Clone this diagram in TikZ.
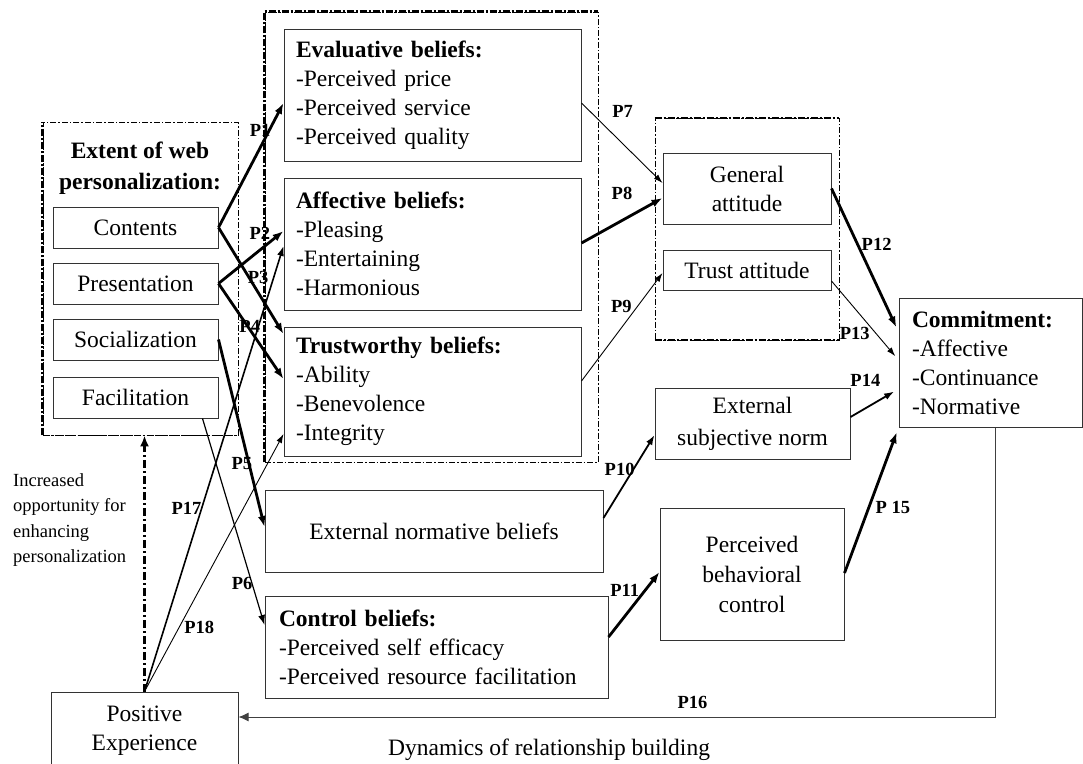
\documentclass[tikz,border=0pt]{standalone}
\usepackage{fontspec}
\setmainfont{Liberation Serif}
\usetikzlibrary{arrows.meta,positioning}
\begin{document}
\begin{tikzpicture}[x=1pt, y=-1pt,
  txt/.style = {font=\fontsize{23.5}{29}\selectfont},
  box/.style = {draw=black!80, line width=1pt, txt, inner sep=0pt},
  item/.style = {box, minimum width=165pt, minimum height=41pt},
  list/.style = {box, align=left, inner xsep=12pt},
  grp/.style = {draw, line width=0.9pt, dash pattern=on 6pt off 2pt on 1.5pt off 2pt, inner sep=0pt},
  grpthick/.style = {line width=2.4pt, dash pattern=on 7pt off 2pt on 2pt off 2pt},
  lbl/.style = {font=\fontsize{18.5}{18.5}\selectfont\bfseries, inner sep=0pt},
  thin/.style = {line width=0.9pt, -{Latex[length=9pt,width=6pt]}},
  mid/.style = {line width=1.8pt, -{Latex[length=10pt,width=7pt]}},
  thk/.style = {line width=2.8pt, -{Latex[length=11pt,width=8pt]}}]
\useasboundingbox (0,0) rectangle (1083,763);
\node[grp, minimum width=195pt, minimum height=313pt] (extentgrp) at (140.5,278.5) {};
\node[grp, minimum width=333pt, minimum height=450pt] (beliefgrp) at (431.5,237) {};
\node[grp, minimum width=184pt, minimum height=222pt] (attgrp) at (747,229) {};
\draw[grpthick] (extentgrp.south west) -- (extentgrp.north west);
\draw[grpthick, line width=1.5pt] (extentgrp.south west) -- (extentgrp.south east);
\draw[grpthick] (beliefgrp.south west) -- (beliefgrp.north west) -- (beliefgrp.north east);
\draw[grpthick, line width=2pt] (attgrp.north west) -- (attgrp.north east);
\draw[grpthick, line width=2pt] (attgrp.south west) -- (attgrp.south east);
\node[txt, font=\fontsize{23.5}{31}\selectfont\bfseries, align=center] (extent) at (140,168) {Extent of web\\personalization:};
\node[item] (contents) at (135.5,227.5) {Contents};
\node[item, below=14pt of contents] (presentation) {Presentation};
\node[item, below=14pt of presentation] (socialization) {Socialization};
\node[item, below=16pt of socialization] (facilitation) {Facilitation};
\node[list, text width=273pt, minimum height=132pt] (evaluative) at (432.5,95) {\textbf{Evaluative beliefs:}\\-Perceived price\\-Perceived service\\-Perceived quality};
\node[list, text width=273pt, minimum height=132pt, below=16pt of evaluative] (affective) {\textbf{Affective beliefs:}\\-Pleasing\\-Entertaining\\-Harmonious};
\node[list, text width=273pt, minimum height=129pt, below=16pt of affective] (trustbel) {\textbf{Trustworthy beliefs:}\\-Ability\\-Benevolence\\-Integrity};
\node[box, minimum width=338pt, minimum height=82pt] (extnorm) at (434,531) {External normative beliefs};
\node[list, inner xsep=14pt, text width=315pt, minimum height=102pt] (control) at (436.5,647) {\textbf{Control beliefs:}\\-Perceived self efficacy\\-Perceived resource facilitation};
\node[box, align=center, minimum width=168pt, minimum height=71pt] (general) at (747,188.5) {General\\attitude};
\node[box, minimum width=168pt, minimum height=40pt, below=25pt of general] (trustatt) {Trust attitude};
\node[box, align=center, font=\fontsize{23.5}{32}\selectfont, minimum width=195pt, minimum height=71pt] (extsubj) at (752.5,423.5) {External\\subjective norm};
\node[box, align=center, font=\fontsize{23.5}{30}\selectfont, minimum width=184pt, minimum height=132pt] (pbc) at (752,574) {Perceived\\behavioral\\control};
\node[list, inner xsep=13pt, text width=157pt, minimum height=129pt] (commitment) at (990.5,362.5) {\textbf{Commitment:}\\-Affective\\-Continuance\\-Normative};
\node[box, align=center, minimum width=187pt, minimum height=77pt] (positive) at (144.5,730.5) {Positive\\Experience};
\node[txt, font=\fontsize{18.5}{25.3}\selectfont, align=left, anchor=west, inner sep=0pt] (increased) at (13,520) {Increased\\opportunity for\\enhancing\\personalization};
\node[txt, anchor=west, inner sep=0pt] (dynamics) at (388,750) {Dynamics of relationship building};
\draw[thk] (contents.east) -- node[lbl, pos=0.78, xshift=-9pt] {P1} ([yshift=-8pt]evaluative.west);
\draw[thk] (presentation.east) -- node[lbl, pos=0.96, xshift=-21pt] {P2} ([yshift=13pt]affective.west);
\draw[thk] (contents.east) -- node[lbl, pos=0.47, xshift=9pt] {P3} ([yshift=57.5pt]trustbel.west);
\draw[thk] (presentation.east) -- node[lbl, pos=0.45, xshift=2pt] {P4} ([yshift=12.5pt]trustbel.west);
\draw[thk] (socialization.east) -- node[lbl, pos=0.66, xshift=-7pt] {P5} ([yshift=4pt]extnorm.west);
\draw[mid, line width=1.2pt] ([xshift=-16pt]facilitation.south east) -- node[lbl, pos=0.8, xshift=-10pt] {P6} ([yshift=22pt]control.west);
\draw[thin] ([yshift=-8pt]evaluative.east) -- node[lbl, pos=0.1, xshift=33pt] {P7} ([yshift=5.5pt]general.west);
\draw[thk] ([yshift=1pt]affective.east) -- node[lbl, pos=0.5, yshift=27pt] {P8} ([yshift=-9.5pt]general.west);
\draw[thin] ([yshift=10.5pt]trustbel.east) -- node[lbl, pos=0.69, xshift=-16pt] {P9} ([yshift=-3pt]trustatt.west);
\draw[mid] ([yshift=13pt]extnorm.east) -- node[lbl, pos=0.59, xshift=-14pt] {P10} ([yshift=-11.5pt]extsubj.west);
\draw[thk] ([yshift=10pt]control.east) -- node[lbl, pos=0.71, xshift=-20pt] {P11} ([yshift=2pt]pbc.west);
\draw[thk, shorten >=5pt] (general.east) -- node[lbl, pos=0.39, xshift=19pt] {P12} ([yshift=30.5pt]commitment.west);
\draw[thin, shorten >=5pt] ([yshift=-11pt]trustatt.east) -- node[lbl, pos=0.66, xshift=-21pt] {P13} ([yshift=2.5pt]commitment.west);
\draw[mid, shorten >=5pt] ([yshift=6.5pt]extsubj.east) -- node[lbl, pos=0.31, yshift=28pt] {P14} ([yshift=-26.5pt]commitment.west);
\draw[thk, shorten >=5pt] ([yshift=1pt]pbc.east) -- node[lbl, pos=0.45, xshift=24pt] {P 15} (commitment.south west);
\draw[draw=black!75, line width=1pt, -{Latex[length=10pt,width=9pt]}] ([xshift=4.5pt]commitment.south) |- node[lbl, pos=0.7, above=8pt] {P16} ([yshift=13.5pt]positive.east);
\draw[mid, line width=1.6pt] (positive.north) -- node[lbl, pos=0.41, xshift=-15pt] {P17} ([yshift=-2pt]affective.west);
\draw[thin] (positive.north) -- node[lbl, pos=0.25, xshift=20pt] {P18} ([yshift=-42.5pt]trustbel.west);
\draw[line width=3pt, dash pattern=on 8pt off 3pt on 2pt off 3pt, -{Latex[length=11pt,width=9pt]}] (positive.north) -- (positive.north |- extentgrp.south);
\end{tikzpicture}
\end{document}
